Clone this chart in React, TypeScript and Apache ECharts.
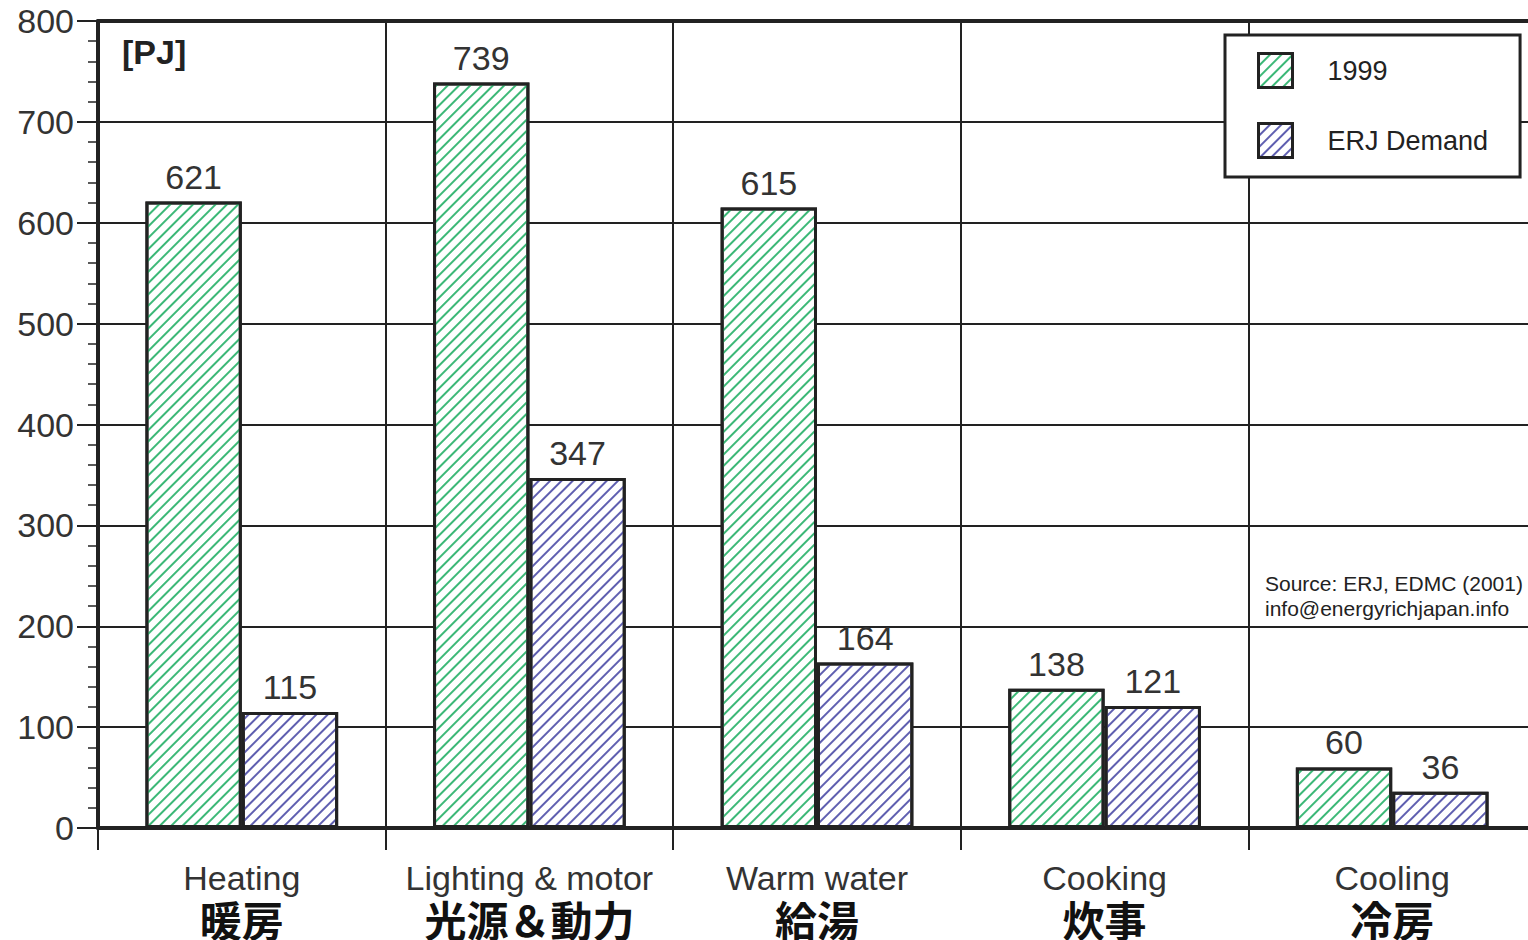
import React, { useEffect, useRef } from "react";
import * as echarts from "echarts";

const categoriesEn = ["Heating", "Lighting & motor", "Warm water", "Cooking", "Cooling"];
const categoriesJa = ["暖房", "光源＆動力", "給湯", "炊事", "冷房"];
const values1999 = [621, 739, 615, 138, 60];
const valuesErj = [115, 347, 164, 121, 36];
const seriesNames = ["1999", "ERJ Demand"];

const FONT = '"Liberation Sans", Arial, Helvetica, sans-serif';
const JP_FONT = '"Noto Sans CJK JP", "Noto Sans CJK SC", sans-serif';

// Thin "/" hatching drawn as a decal over a white bar fill
const hatch = (color: string) => ({
  symbol: "rect",
  symbolSize: 1,
  dashArrayX: [1, 0],
  dashArrayY: [1.6, 5.8],
  rotation: -Math.PI / 4,
  color,
  backgroundColor: "#ffffff",
});

export default function App() {
  const ref = useRef<HTMLDivElement>(null);

  useEffect(() => {
    if (!ref.current) return;
    const chart = echarts.init(ref.current, undefined, { renderer: "svg" });
    const barBase = {
      type: "bar" as const,
      xAxisIndex: 0,
      yAxisIndex: 0,
      barGap: "0%",
      barCategoryGap: "33%",
      label: {
        show: true,
        position: "top" as const,
        distance: 8,
        fontSize: 34,
        fontFamily: FONT,
        color: "#333",
      },
    };
    chart.setOption({
      animation: false,
      backgroundColor: "#ffffff",
      grid: { left: 98, right: 4, top: 21, bottom: 112 },
      legend: {
        data: seriesNames,
        orient: "vertical",
        left: 1225,
        top: 35,
        padding: [17, 32, 18, 32],
        itemWidth: 34,
        itemHeight: 34,
        itemGap: 33,
        icon: "rect",
        backgroundColor: "#ffffff",
        borderColor: "#222",
        borderWidth: 3,
        borderRadius: 0,
        itemStyle: { borderColor: "#222", borderWidth: 3 },
        textStyle: {
          fontSize: 27,
          lineHeight: 34,
          fontFamily: FONT,
          color: "#222",
          padding: [0, 0, 0, 30],
        },
      },
      xAxis: [
        {
          type: "category",
          data: categoriesEn,
          axisLine: { lineStyle: { color: "#222", width: 4 } },
          axisTick: { show: true, interval: 0, length: 22, lineStyle: { color: "#222", width: 2 } },
          splitLine: { show: true, interval: 0, lineStyle: { color: "#222", width: 2 } },
          axisLabel: {
            interval: 0,
            margin: 30,
            formatter: (v: string, i: number) => `{en|${v}}\n{ja|${categoriesJa[i]}}`,
            rich: {
              en: { fontSize: 34, fontFamily: FONT, color: "#333", lineHeight: 40 },
              ja: { fontSize: 42, fontFamily: JP_FONT, fontWeight: "bold", color: "#111", lineHeight: 40 },
            },
          },
        },
        {
          type: "category",
          data: categoriesEn,
          position: "top",
          axisLine: { lineStyle: { color: "#222", width: 4 } },
          axisTick: { show: false },
          axisLabel: { show: false },
          splitLine: { show: false },
        },
      ],
      yAxis: {
        type: "value",
        min: 0,
        max: 800,
        interval: 100,
        axisLine: { show: true, lineStyle: { color: "#222", width: 4 } },
        axisTick: { show: true, length: 21, lineStyle: { color: "#222", width: 2 } },
        minorTick: { show: true, splitNumber: 5, length: 10, lineStyle: { color: "#222", width: 1.5 } },
        splitLine: { show: true, lineStyle: { color: "#222", width: 2 } },
        axisLabel: { fontSize: 34, fontFamily: FONT, color: "#333", margin: 24 },
      },
      series: [
        {
          ...barBase,
          name: seriesNames[0],
          data: values1999,
          itemStyle: {
            color: "#ffffff",
            borderColor: "#222",
            borderWidth: 3,
            decal: hatch("#3cb877"),
          },
        },
        {
          ...barBase,
          name: seriesNames[1],
          data: valuesErj,
          itemStyle: {
            color: "#ffffff",
            borderColor: "#222",
            borderWidth: 3,
            decal: hatch("#5f5fb0"),
          },
        },
      ],
      graphic: [
        {
          type: "text",
          left: 122,
          top: 35,
          style: { text: "[PJ]", fontSize: 34, fontWeight: "bold", fontFamily: FONT, fill: "#222" },
        },
        {
          type: "text",
          left: 1265,
          top: 571,
          style: {
            text: "Source: ERJ, EDMC (2001)\ninfo@energyrichjapan.info",
            fontSize: 21,
            lineHeight: 25,
            fontFamily: FONT,
            fill: "#222",
          },
        },
      ],
    });
    return () => chart.dispose();
  }, []);

  return (
    <div
      ref={ref}
      style={{ position: "fixed", left: 0, top: 0, width: 1540, height: 940 }}
    />
  );
}
